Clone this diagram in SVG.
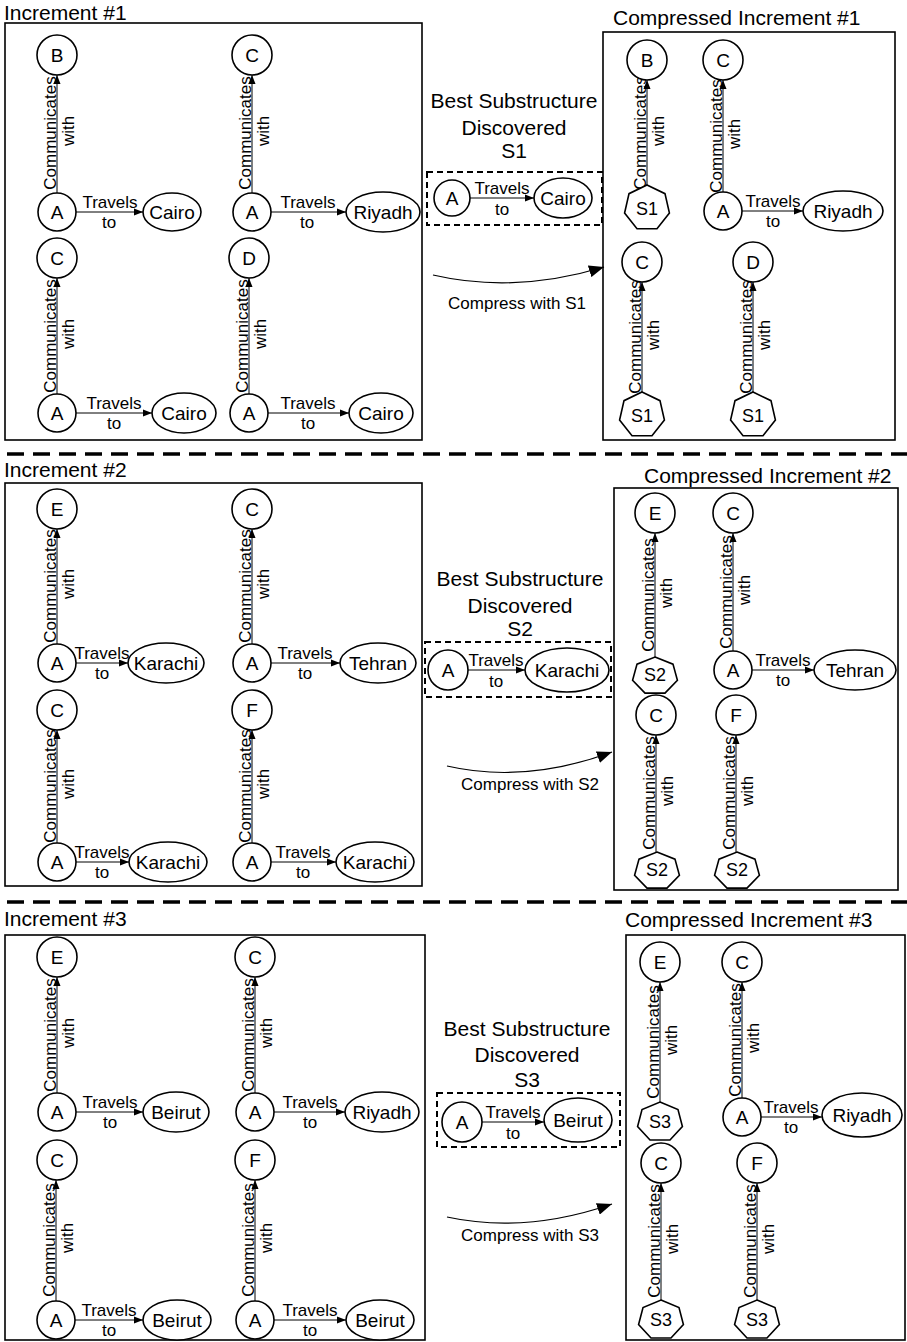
<svg xmlns="http://www.w3.org/2000/svg" xmlns:xlink="http://www.w3.org/1999/xlink" width="907" height="1342" viewBox="0 0 907 1342">
<style>
text{font-family:"Liberation Sans",Arial,sans-serif;fill:#000}
.t{font-size:21px}
.n{font-size:19px;text-anchor:middle;dominant-baseline:central}
.h{font-size:18px;text-anchor:middle;dominant-baseline:central}
.e{font-size:17px;text-anchor:middle}
.box{fill:none;stroke:#000;stroke-width:1.6}
.dbox{fill:none;stroke:#000;stroke-width:2;stroke-dasharray:6 4}
.sep{fill:none;stroke:#000;stroke-width:3.5;stroke-dasharray:17 9}
.nd{fill:#fff;stroke:#000;stroke-width:1.6}
.ed{fill:none;stroke:#000;stroke-width:1;marker-end:url(#ah)}
.ca{fill:none;stroke:#000;stroke-width:1.2;marker-end:url(#big)}
</style>
<defs>
<marker id="ah" markerUnits="userSpaceOnUse" markerWidth="10" markerHeight="8" refX="9" refY="4" orient="auto"><path d="M0,0.5 L9,4 L0,7.5 z" fill="#000"/></marker>
<marker id="big" markerUnits="userSpaceOnUse" markerWidth="16" markerHeight="12" refX="15" refY="6" orient="auto"><path d="M0,0 L15,6 L0,12 z" fill="#000"/></marker>
<polygon id="h23" class="nd" points="0,-23 17.98,-14.34 22.42,5.12 9.98,20.72 -9.98,20.72 -22.42,5.12 -17.98,-14.34"/>
<polygon id="h19" class="nd" points="0,-19 17.98,-11.85 22.42,4.23 9.98,17.12 -9.98,17.12 -22.42,4.23 -17.98,-11.85"/>
<polygon id="h20" class="nd" points="0,-20 17.98,-12.47 22.42,4.45 9.98,18.02 -9.98,18.02 -22.42,4.45 -17.98,-12.47"/>
</defs>

<!-- frames and titles -->
<g id="frames">
<text class="t" x="4" y="20">Increment #1</text>
<rect class="box" x="5" y="23" width="417" height="417"/>
<text class="t" x="613" y="25">Compressed Increment #1</text>
<rect class="box" x="603" y="32" width="292" height="408"/>
<line class="sep" x1="7" y1="454" x2="907" y2="454"/>
<text class="t" x="4" y="477">Increment #2</text>
<rect class="box" x="5" y="483" width="417" height="403"/>
<text class="t" x="644" y="483">Compressed Increment #2</text>
<rect class="box" x="614" y="488" width="284" height="402"/>
<line class="sep" x1="7" y1="902" x2="907" y2="902"/>
<text class="t" x="4" y="926">Increment #3</text>
<rect class="box" x="5" y="935" width="420" height="405"/>
<text class="t" x="625" y="927">Compressed Increment #3</text>
<rect class="box" x="626" y="935" width="279" height="405"/>
</g>

<!-- middle sections -->
<g id="mid1">
<text class="t" x="514" y="108" text-anchor="middle">Best Substructure</text>
<text class="t" x="514" y="135" text-anchor="middle">Discovered</text>
<text class="t" x="514" y="158" text-anchor="middle">S1</text>
<rect class="dbox" x="427" y="172" width="175" height="53"/>
<text class="e" x="517" y="309">Compress with S1</text>
</g>
<g id="mid2">
<text class="t" x="520" y="586" text-anchor="middle">Best Substructure</text>
<text class="t" x="520" y="613" text-anchor="middle">Discovered</text>
<text class="t" x="520" y="636" text-anchor="middle">S2</text>
<rect class="dbox" x="425" y="642" width="186" height="55"/>
<text class="e" x="530" y="790">Compress with S2</text>
</g>
<g id="mid3">
<text class="t" x="527" y="1036" text-anchor="middle">Best Substructure</text>
<text class="t" x="527" y="1062" text-anchor="middle">Discovered</text>
<text class="t" x="527" y="1087" text-anchor="middle">S3</text>
<rect class="dbox" x="437" y="1093" width="183" height="54"/>
<text class="e" x="530" y="1241">Compress with S3</text>
</g>

<!-- connectors -->
<g id="connectors">
<!-- Increment 1 -->
<line class="ed" x1="57" y1="193" x2="57" y2="75"/>
<line class="ed" x1="76" y1="212" x2="143" y2="212"/>
<line class="ed" x1="252" y1="193" x2="252" y2="75"/>
<line class="ed" x1="271" y1="212" x2="346" y2="212"/>
<line class="ed" x1="57" y1="394" x2="57" y2="278"/>
<line class="ed" x1="76" y1="413" x2="152" y2="413"/>
<line class="ed" x1="249" y1="394" x2="249" y2="278"/>
<line class="ed" x1="268" y1="413" x2="349" y2="413"/>
<line class="ed" x1="470" y1="198" x2="534" y2="198"/>
<path class="ca" d="M433,275 Q515,294 604,267"/>
<line class="ed" x1="647" y1="185" x2="647" y2="80"/>
<line class="ed" x1="723" y1="192" x2="723" y2="80"/>
<line class="ed" x1="742" y1="211" x2="803" y2="211"/>
<line class="ed" x1="642" y1="392" x2="642" y2="282"/>
<line class="ed" x1="753" y1="392" x2="753" y2="282"/>
<!-- Increment 2 -->
<line class="ed" x1="57" y1="644" x2="57" y2="529"/>
<line class="ed" x1="76" y1="663" x2="128" y2="663"/>
<line class="ed" x1="252" y1="644" x2="252" y2="529"/>
<line class="ed" x1="271" y1="663" x2="340" y2="663"/>
<line class="ed" x1="57" y1="843" x2="57" y2="730"/>
<line class="ed" x1="76" y1="862" x2="129" y2="862"/>
<line class="ed" x1="252" y1="843" x2="252" y2="730"/>
<line class="ed" x1="271" y1="862" x2="336" y2="862"/>
<line class="ed" x1="468" y1="670" x2="525" y2="670"/>
<path class="ca" d="M447,766 Q525,784 612,752"/>
<line class="ed" x1="655" y1="657" x2="655" y2="533"/>
<line class="ed" x1="733" y1="651" x2="733" y2="533"/>
<line class="ed" x1="752" y1="670" x2="814" y2="670"/>
<line class="ed" x1="656" y1="852" x2="656" y2="735"/>
<line class="ed" x1="736" y1="852" x2="736" y2="735"/>
<!-- Increment 3 -->
<line class="ed" x1="57" y1="1093" x2="57" y2="977"/>
<line class="ed" x1="76" y1="1112" x2="143" y2="1112"/>
<line class="ed" x1="255" y1="1093" x2="255" y2="977"/>
<line class="ed" x1="274" y1="1112" x2="345" y2="1112"/>
<line class="ed" x1="56" y1="1301" x2="56" y2="1180"/>
<line class="ed" x1="75" y1="1320" x2="143" y2="1320"/>
<line class="ed" x1="255" y1="1301" x2="255" y2="1180"/>
<line class="ed" x1="274" y1="1320" x2="346" y2="1320"/>
<line class="ed" x1="482" y1="1122" x2="544" y2="1122"/>
<path class="ca" d="M447,1217 Q525,1234 612,1204"/>
<line class="ed" x1="660" y1="1102" x2="660" y2="982"/>
<line class="ed" x1="742" y1="1098" x2="742" y2="982"/>
<line class="ed" x1="761" y1="1117" x2="822" y2="1117"/>
<line class="ed" x1="661" y1="1300" x2="661" y2="1183"/>
<line class="ed" x1="757" y1="1300" x2="757" y2="1183"/>
</g>

<!-- connector labels -->
<g id="connector-labels">
<text class="e" transform="translate(55.5,133) rotate(-90)">Communicates</text>
<text class="e" transform="translate(74,131) rotate(-90)">with</text>
<text class="e" x="110" y="208">Travels</text><text class="e" x="109" y="228">to</text>
<text class="e" transform="translate(250.5,133) rotate(-90)">Communicates</text>
<text class="e" transform="translate(269,131) rotate(-90)">with</text>
<text class="e" x="308" y="208">Travels</text><text class="e" x="307" y="228">to</text>
<text class="e" transform="translate(55.5,336) rotate(-90)">Communicates</text>
<text class="e" transform="translate(74,334) rotate(-90)">with</text>
<text class="e" x="114" y="409">Travels</text><text class="e" x="114" y="429">to</text>
<text class="e" transform="translate(247.5,336) rotate(-90)">Communicates</text>
<text class="e" transform="translate(266,334) rotate(-90)">with</text>
<text class="e" x="308" y="409">Travels</text><text class="e" x="308" y="429">to</text>
<text class="e" x="502" y="194">Travels</text><text class="e" x="502" y="215">to</text>
<text class="e" transform="translate(645.5,133) rotate(-90)">Communicates</text>
<text class="e" transform="translate(664,131) rotate(-90)">with</text>
<text class="e" transform="translate(721.5,136) rotate(-90)">Communicates</text>
<text class="e" transform="translate(740,134) rotate(-90)">with</text>
<text class="e" x="773" y="207">Travels</text><text class="e" x="773" y="227">to</text>
<text class="e" transform="translate(640.5,337) rotate(-90)">Communicates</text>
<text class="e" transform="translate(659,335) rotate(-90)">with</text>
<text class="e" transform="translate(751.5,337) rotate(-90)">Communicates</text>
<text class="e" transform="translate(770,335) rotate(-90)">with</text>

<text class="e" transform="translate(55.5,586) rotate(-90)">Communicates</text>
<text class="e" transform="translate(74,584) rotate(-90)">with</text>
<text class="e" x="102" y="659">Travels</text><text class="e" x="102" y="679">to</text>
<text class="e" transform="translate(250.5,586) rotate(-90)">Communicates</text>
<text class="e" transform="translate(269,584) rotate(-90)">with</text>
<text class="e" x="305" y="659">Travels</text><text class="e" x="305" y="679">to</text>
<text class="e" transform="translate(55.5,786) rotate(-90)">Communicates</text>
<text class="e" transform="translate(74,784) rotate(-90)">with</text>
<text class="e" x="102" y="858">Travels</text><text class="e" x="102" y="878">to</text>
<text class="e" transform="translate(250.5,786) rotate(-90)">Communicates</text>
<text class="e" transform="translate(269,784) rotate(-90)">with</text>
<text class="e" x="303" y="858">Travels</text><text class="e" x="303" y="878">to</text>
<text class="e" x="496" y="666">Travels</text><text class="e" x="496" y="687">to</text>
<text class="e" transform="translate(653.5,595) rotate(-90)">Communicates</text>
<text class="e" transform="translate(672,593) rotate(-90)">with</text>
<text class="e" transform="translate(731.5,592) rotate(-90)">Communicates</text>
<text class="e" transform="translate(750,590) rotate(-90)">with</text>
<text class="e" x="783" y="666">Travels</text><text class="e" x="783" y="686">to</text>
<text class="e" transform="translate(654.5,793) rotate(-90)">Communicates</text>
<text class="e" transform="translate(673,791) rotate(-90)">with</text>
<text class="e" transform="translate(734.5,793) rotate(-90)">Communicates</text>
<text class="e" transform="translate(753,791) rotate(-90)">with</text>

<text class="e" transform="translate(55.5,1035) rotate(-90)">Communicates</text>
<text class="e" transform="translate(74,1033) rotate(-90)">with</text>
<text class="e" x="110" y="1108">Travels</text><text class="e" x="110" y="1128">to</text>
<text class="e" transform="translate(253.5,1035) rotate(-90)">Communicates</text>
<text class="e" transform="translate(272,1033) rotate(-90)">with</text>
<text class="e" x="310" y="1108">Travels</text><text class="e" x="310" y="1128">to</text>
<text class="e" transform="translate(54.5,1240) rotate(-90)">Communicates</text>
<text class="e" transform="translate(73,1238) rotate(-90)">with</text>
<text class="e" x="109" y="1316">Travels</text><text class="e" x="109" y="1336">to</text>
<text class="e" transform="translate(253.5,1240) rotate(-90)">Communicates</text>
<text class="e" transform="translate(272,1238) rotate(-90)">with</text>
<text class="e" x="310" y="1316">Travels</text><text class="e" x="310" y="1336">to</text>
<text class="e" x="513" y="1118">Travels</text><text class="e" x="513" y="1139">to</text>
<text class="e" transform="translate(658.5,1042) rotate(-90)">Communicates</text>
<text class="e" transform="translate(677,1040) rotate(-90)">with</text>
<text class="e" transform="translate(740.5,1040) rotate(-90)">Communicates</text>
<text class="e" transform="translate(759,1038) rotate(-90)">with</text>
<text class="e" x="791" y="1113">Travels</text><text class="e" x="791" y="1133">to</text>
<text class="e" transform="translate(659.5,1241) rotate(-90)">Communicates</text>
<text class="e" transform="translate(678,1239) rotate(-90)">with</text>
<text class="e" transform="translate(755.5,1241) rotate(-90)">Communicates</text>
<text class="e" transform="translate(774,1239) rotate(-90)">with</text>
</g>

<!-- nodes: Increment 1 -->
<g id="i1-B"><circle class="nd" cx="57" cy="55" r="20"/><text class="n" x="57" y="55">B</text></g>
<g id="i1-A1"><circle class="nd" cx="57" cy="212" r="19"/><text class="n" x="57" y="212">A</text></g>
<g id="i1-Cairo1"><ellipse class="nd" cx="172" cy="212" rx="29" ry="19"/><text class="n" x="172" y="212">Cairo</text></g>
<g id="i1-C1"><circle class="nd" cx="252" cy="55" r="20"/><text class="n" x="252" y="55">C</text></g>
<g id="i1-A2"><circle class="nd" cx="252" cy="212" r="19"/><text class="n" x="252" y="212">A</text></g>
<g id="i1-Riyadh"><ellipse class="nd" cx="383" cy="212" rx="37" ry="20"/><text class="n" x="383" y="212">Riyadh</text></g>
<g id="i1-C2"><circle class="nd" cx="57" cy="258" r="20"/><text class="n" x="57" y="258">C</text></g>
<g id="i1-A3"><circle class="nd" cx="57" cy="413" r="19"/><text class="n" x="57" y="413">A</text></g>
<g id="i1-Cairo2"><ellipse class="nd" cx="184" cy="413" rx="32" ry="20"/><text class="n" x="184" y="413">Cairo</text></g>
<g id="i1-D"><circle class="nd" cx="249" cy="258" r="20"/><text class="n" x="249" y="258">D</text></g>
<g id="i1-A4"><circle class="nd" cx="249" cy="413" r="19"/><text class="n" x="249" y="413">A</text></g>
<g id="i1-Cairo3"><ellipse class="nd" cx="381" cy="413" rx="32" ry="20"/><text class="n" x="381" y="413">Cairo</text></g>
<g id="s1-A"><circle class="nd" cx="452" cy="198" r="18"/><text class="n" x="452" y="198">A</text></g>
<g id="s1-Cairo"><ellipse class="nd" cx="563" cy="198" rx="29" ry="20"/><text class="n" x="563" y="198">Cairo</text></g>
<g id="c1-B"><circle class="nd" cx="647" cy="60" r="20"/><text class="n" x="647" y="60">B</text></g>
<g id="c1-S1a"><use xlink:href="#h23" x="647" y="208"/><text class="h" x="647" y="209">S1</text></g>
<g id="c1-C1"><circle class="nd" cx="723" cy="60" r="20"/><text class="n" x="723" y="60">C</text></g>
<g id="c1-A"><circle class="nd" cx="723" cy="211" r="19"/><text class="n" x="723" y="211">A</text></g>
<g id="c1-Riyadh"><ellipse class="nd" cx="843" cy="211" rx="40" ry="20"/><text class="n" x="843" y="211">Riyadh</text></g>
<g id="c1-C2"><circle class="nd" cx="642" cy="262" r="20"/><text class="n" x="642" y="262">C</text></g>
<g id="c1-S1b"><use xlink:href="#h23" x="642" y="415"/><text class="h" x="642" y="416">S1</text></g>
<g id="c1-D"><circle class="nd" cx="753" cy="262" r="20"/><text class="n" x="753" y="262">D</text></g>
<g id="c1-S1c"><use xlink:href="#h23" x="753" y="415"/><text class="h" x="753" y="416">S1</text></g>

<!-- nodes: Increment 2 -->
<g id="i2-E"><circle class="nd" cx="57" cy="509" r="20"/><text class="n" x="57" y="509">E</text></g>
<g id="i2-A1"><circle class="nd" cx="57" cy="663" r="19"/><text class="n" x="57" y="663">A</text></g>
<g id="i2-Karachi1"><ellipse class="nd" cx="166" cy="663" rx="38" ry="20"/><text class="n" x="166" y="663">Karachi</text></g>
<g id="i2-C1"><circle class="nd" cx="252" cy="509" r="20"/><text class="n" x="252" y="509">C</text></g>
<g id="i2-A2"><circle class="nd" cx="252" cy="663" r="19"/><text class="n" x="252" y="663">A</text></g>
<g id="i2-Tehran"><ellipse class="nd" cx="378" cy="663" rx="38" ry="20"/><text class="n" x="378" y="663">Tehran</text></g>
<g id="i2-C2"><circle class="nd" cx="57" cy="710" r="20"/><text class="n" x="57" y="710">C</text></g>
<g id="i2-A3"><circle class="nd" cx="57" cy="862" r="19"/><text class="n" x="57" y="862">A</text></g>
<g id="i2-Karachi2"><ellipse class="nd" cx="168" cy="862" rx="39" ry="20"/><text class="n" x="168" y="862">Karachi</text></g>
<g id="i2-F"><circle class="nd" cx="252" cy="710" r="20"/><text class="n" x="252" y="710">F</text></g>
<g id="i2-A4"><circle class="nd" cx="252" cy="862" r="19"/><text class="n" x="252" y="862">A</text></g>
<g id="i2-Karachi3"><ellipse class="nd" cx="375" cy="862" rx="39" ry="20"/><text class="n" x="375" y="862">Karachi</text></g>
<g id="s2-A"><circle class="nd" cx="448" cy="670" r="20"/><text class="n" x="448" y="670">A</text></g>
<g id="s2-Karachi"><ellipse class="nd" cx="567" cy="670" rx="42" ry="22"/><text class="n" x="567" y="670">Karachi</text></g>
<g id="c2-E"><circle class="nd" cx="655" cy="513" r="20"/><text class="n" x="655" y="513">E</text></g>
<g id="c2-S2a"><use xlink:href="#h19" x="655" y="676"/><text class="h" x="655" y="675">S2</text></g>
<g id="c2-C1"><circle class="nd" cx="733" cy="513" r="20"/><text class="n" x="733" y="513">C</text></g>
<g id="c2-A"><circle class="nd" cx="733" cy="670" r="19"/><text class="n" x="733" y="670">A</text></g>
<g id="c2-Tehran"><ellipse class="nd" cx="855" cy="670" rx="41" ry="20"/><text class="n" x="855" y="670">Tehran</text></g>
<g id="c2-C2"><circle class="nd" cx="656" cy="715" r="20"/><text class="n" x="656" y="715">C</text></g>
<g id="c2-S2b"><use xlink:href="#h19" x="657" y="871"/><text class="h" x="657" y="870">S2</text></g>
<g id="c2-F"><circle class="nd" cx="736" cy="715" r="20"/><text class="n" x="736" y="715">F</text></g>
<g id="c2-S2c"><use xlink:href="#h19" x="737" y="871"/><text class="h" x="737" y="870">S2</text></g>

<!-- nodes: Increment 3 -->
<g id="i3-E"><circle class="nd" cx="57" cy="957" r="20"/><text class="n" x="57" y="957">E</text></g>
<g id="i3-A1"><circle class="nd" cx="57" cy="1112" r="19"/><text class="n" x="57" y="1112">A</text></g>
<g id="i3-Beirut1"><ellipse class="nd" cx="176" cy="1112" rx="33" ry="20"/><text class="n" x="176" y="1112">Beirut</text></g>
<g id="i3-C1"><circle class="nd" cx="255" cy="957" r="20"/><text class="n" x="255" y="957">C</text></g>
<g id="i3-A2"><circle class="nd" cx="255" cy="1112" r="19"/><text class="n" x="255" y="1112">A</text></g>
<g id="i3-Riyadh"><ellipse class="nd" cx="382" cy="1112" rx="37" ry="20"/><text class="n" x="382" y="1112">Riyadh</text></g>
<g id="i3-C2"><circle class="nd" cx="57" cy="1160" r="20"/><text class="n" x="57" y="1160">C</text></g>
<g id="i3-A3"><circle class="nd" cx="56" cy="1320" r="19"/><text class="n" x="56" y="1320">A</text></g>
<g id="i3-Beirut2"><ellipse class="nd" cx="177" cy="1320" rx="34" ry="20"/><text class="n" x="177" y="1320">Beirut</text></g>
<g id="i3-F"><circle class="nd" cx="255" cy="1160" r="20"/><text class="n" x="255" y="1160">F</text></g>
<g id="i3-A4"><circle class="nd" cx="255" cy="1320" r="19"/><text class="n" x="255" y="1320">A</text></g>
<g id="i3-Beirut3"><ellipse class="nd" cx="380" cy="1320" rx="34" ry="20"/><text class="n" x="380" y="1320">Beirut</text></g>
<g id="s3-A"><circle class="nd" cx="462" cy="1122" r="20"/><text class="n" x="462" y="1122">A</text></g>
<g id="s3-Beirut"><ellipse class="nd" cx="578" cy="1120" rx="34" ry="22"/><text class="n" x="578" y="1120">Beirut</text></g>
<g id="c3-E"><circle class="nd" cx="660" cy="962" r="20"/><text class="n" x="660" y="962">E</text></g>
<g id="c3-S3a"><use xlink:href="#h20" x="660" y="1122"/><text class="h" x="660" y="1122">S3</text></g>
<g id="c3-C1"><circle class="nd" cx="742" cy="962" r="20"/><text class="n" x="742" y="962">C</text></g>
<g id="c3-A"><circle class="nd" cx="742" cy="1117" r="19"/><text class="n" x="742" y="1117">A</text></g>
<g id="c3-Riyadh"><ellipse class="nd" cx="862" cy="1115" rx="40" ry="22"/><text class="n" x="862" y="1115">Riyadh</text></g>
<g id="c3-C2"><circle class="nd" cx="661" cy="1163" r="20"/><text class="n" x="661" y="1163">C</text></g>
<g id="c3-S3b"><use xlink:href="#h20" x="661" y="1320"/><text class="h" x="661" y="1320">S3</text></g>
<g id="c3-F"><circle class="nd" cx="757" cy="1163" r="20"/><text class="n" x="757" y="1163">F</text></g>
<g id="c3-S3c"><use xlink:href="#h20" x="757" y="1320"/><text class="h" x="757" y="1320">S3</text></g>
</svg>
